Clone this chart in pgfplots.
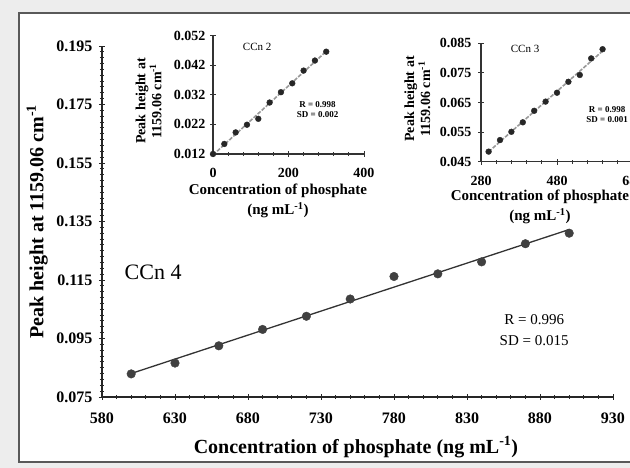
\documentclass[border=0pt]{standalone}
\usepackage{pgfplots}
\usepackage{pgfplotstable}
\pgfplotsset{compat=1.18}
\usepackage{fontspec}
\setmainfont{Liberation Serif}

\pgfplotstableread{
x y
600 0.0829
630 0.0866
660 0.0925
690 0.0981
720 0.1026
750 0.1085
780 0.1162
810 0.1171
840 0.1212
870 0.1274
900 0.1310
}\ccnfour

\pgfplotstableread{
x y
0 0.0120
30 0.0154
60 0.0193
90 0.0219
120 0.0239
150 0.0294
180 0.0329
210 0.0359
240 0.0402
270 0.0436
300 0.0466
}\ccntwo

\pgfplotstableread{
x y
300 0.0484
330 0.0523
360 0.0551
390 0.0583
420 0.0622
450 0.0653
480 0.0683
510 0.0720
540 0.0743
570 0.0799
600 0.0830
}\ccnthree

\begin{document}
\begin{tikzpicture}
\useasboundingbox (0,0) rectangle (630pt,468pt);
\clip (0,0) rectangle (630pt,468pt);
\fill[gray!14] (0,0) rectangle (630pt,468pt);
\fill[white] (19pt,6pt) rectangle (640pt,455pt);
\draw[black!65, line width=1.2pt] (640pt,455pt) -- (19pt,455pt) -- (19pt,6pt) -- (640pt,6pt);

% main axis
\begin{axis}[
  at={(102pt,71pt)}, anchor=south west, scale only axis,
  width=511pt, height=351pt,
  xmin=580, xmax=930, ymin=0.075, ymax=0.195,
  scaled ticks=false,
  axis lines=left, axis line style={-, line width=1.2pt, black!85},
  xtick={580,630,680,730,780,830,880,930},
  ytick={0.075,0.095,0.115,0.135,0.155,0.175,0.195},
  yticklabels={0.075,0.095,0.115,0.135,0.155,0.175,0.195},
  xticklabels={580,630,680,730,780,830,880,930},
  minor x tick num=4, minor y tick num=9,
  tick align=center, major tick length=6pt, minor tick length=4pt,
  tick style={black!85, line width=0.9pt},
  ticklabel style={font=\fontsize{16}{16}\selectfont\bfseries},
  xticklabel style={yshift=-9pt},
  yticklabel style={xshift=-3pt},
  xlabel={Concentration of phosphate (ng mL\textsuperscript{-1})},
  ylabel={Peak height at 1159.06 cm\textsuperscript{-1}},
  xlabel style={at={(axis description cs:0.497,-0.1425)}, anchor=center, font=\fontsize{20}{20}\selectfont\bfseries},
  ylabel style={at={(axis description cs:-0.127,0.5)}, anchor=center, font=\fontsize{20}{20}\selectfont\bfseries},
  clip=false,
]
\addplot[no marks, line width=1.3pt, black!80] table[x=x, y={create col/linear regression={y=y}}] {\ccnfour};
\addplot[only marks, mark=*, mark size=4.3pt, color=black!75] table[x=x,y=y] {\ccnfour};
\node[font=\fontsize{22}{22}\selectfont] at (axis cs:615,0.1177) {CCn 4};
\node[font=\fontsize{15}{21}\selectfont, align=center] at (axis cs:876,0.0977) {R = 0.996\\SD = 0.015};
\end{axis}

% inset CCn 2
\begin{axis}[
  at={(213pt,314pt)}, anchor=south west, scale only axis,
  width=151pt, height=118.3pt,
  xmin=0, xmax=400, ymin=0.012, ymax=0.052,
  scaled ticks=false,
  axis lines=left, axis line style={-, line width=1.2pt, black!80},
  xtick={0,200,400}, xticklabels={0,200,400},
  ytick={0.012,0.022,0.032,0.042,0.052},
  yticklabels={0.012,0.022,0.032,0.042,0.052},
  minor x tick num=4,
  tick align=center, major tick length=6pt, minor tick length=4pt,
  tick style={black!80, line width=0.9pt},
  ticklabel style={font=\fontsize{14}{14}\selectfont\bfseries},
  xticklabel style={yshift=-8pt},
  yticklabel style={xshift=-1pt},
  xlabel={Concentration of phosphate\\(ng mL\textsuperscript{-1})},
  ylabel={Peak height at\\1159.06 cm\textsuperscript{-1}},
  xlabel style={align=center, at={(axis description cs:0.43,-0.40)}, anchor=center, font=\fontsize{15}{20}\selectfont\bfseries},
  ylabel style={align=center, at={(axis description cs:-0.427,0.448)}, anchor=center, font=\fontsize{14}{16}\selectfont\bfseries},
  clip=false,
]
\addplot[no marks, line width=1.6pt, gray!80, dash pattern=on 4pt off 1.5pt] table[x=x, y={create col/linear regression={y=y}}] {\ccntwo};
\addplot[only marks, mark=*, mark size=2.9pt, color=black!85] table[x=x,y=y] {\ccntwo};
\node[font=\fontsize{11}{11}\selectfont] at (axis cs:117,0.0482) {CCn 2};
\node[font=\fontsize{9}{10}\selectfont\bfseries, align=center] at (axis cs:277,0.0271) {R = 0.998\\SD = 0.002};
\end{axis}

% inset CCn 3
\begin{axis}[
  at={(481pt,306.3pt)}, anchor=south west, scale only axis,
  width=152pt, height=118.4pt,
  xmin=280, xmax=680, ymin=0.045, ymax=0.085,
  scaled ticks=false,
  axis lines=left, axis line style={-, line width=1.2pt, black!80},
  xtick={280,480,680}, xticklabels={280,480,680},
  ytick={0.045,0.055,0.065,0.075,0.085},
  yticklabels={0.045,0.055,0.065,0.075,0.085},
  minor x tick num=4,
  tick align=center, major tick length=6pt, minor tick length=4pt,
  tick style={black!80, line width=0.9pt},
  ticklabel style={font=\fontsize{14}{14}\selectfont\bfseries},
  xticklabel style={yshift=-8pt},
  yticklabel style={xshift=-3pt},
  xlabel={Concentration of phosphate\\(ng mL\textsuperscript{-1})},
  ylabel={Peak height at\\1159.06 cm\textsuperscript{-1}},
  xlabel style={align=center, at={(axis description cs:0.388,-0.383)}, anchor=center, font=\fontsize{15}{20}\selectfont\bfseries},
  ylabel style={align=center, at={(axis description cs:-0.418,0.53)}, anchor=center, font=\fontsize{14}{16}\selectfont\bfseries},
  clip=false,
]
\addplot[no marks, line width=1.6pt, gray!80, dash pattern=on 4pt off 1.5pt] table[x=x, y={create col/linear regression={y=y}}] {\ccnthree};
\addplot[only marks, mark=*, mark size=2.9pt, color=black!85] table[x=x,y=y] {\ccnthree};
\node[font=\fontsize{11}{11}\selectfont] at (axis cs:396,0.0831) {CCn 3};
\node[font=\fontsize{9}{10}\selectfont\bfseries, align=center] at (axis cs:612,0.0610) {R = 0.998\\SD = 0.001};
\end{axis}
\end{tikzpicture}
\end{document}
